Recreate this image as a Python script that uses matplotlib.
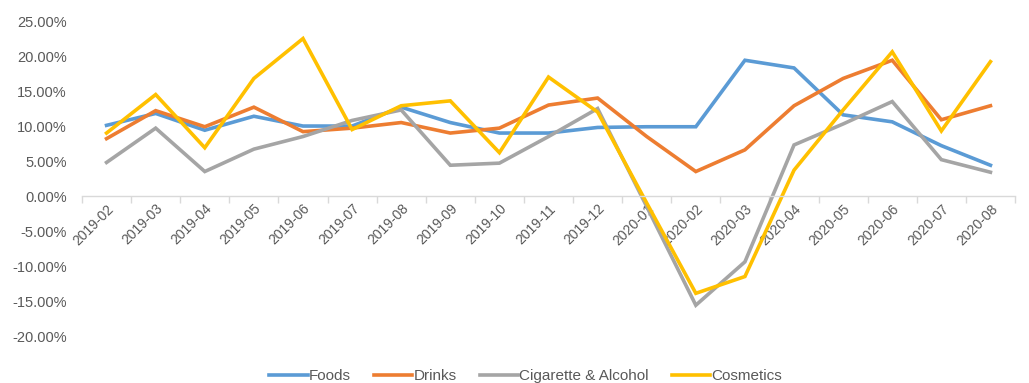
import matplotlib.pyplot as plt
from matplotlib.ticker import FuncFormatter, MultipleLocator, FixedLocator

# Data (year-on-year growth, %)
months = ["2019-02", "2019-03", "2019-04", "2019-05", "2019-06", "2019-07",
          "2019-08", "2019-09", "2019-10", "2019-11", "2019-12", "2020-01",
          "2020-02", "2020-03", "2020-04", "2020-05", "2020-06", "2020-07",
          "2020-08"]
foods = [10.1, 11.8, 9.4, 11.4, 10.0, 10.0, 12.7, 10.5, 9.0, 9.0, 9.8, 9.9,
         9.9, 19.4, 18.3, 11.6, 10.6, 7.2, 4.4]
drinks = [8.2, 12.2, 9.9, 12.7, 9.2, 9.7, 10.5, 9.0, 9.7, 13.0, 14.0, 8.5,
          3.5, 6.6, 12.9, 16.8, 19.4, 10.9, 12.9]
cig_alcohol = [4.8, 9.7, 3.5, 6.7, 8.5, 10.8, 12.3, 4.4, 4.7, 8.5, 12.5, -1.5,
               -15.6, -9.4, 7.3, 10.3, 13.5, 5.2, 3.4]
cosmetics = [9.0, 14.5, 6.9, 16.8, 22.5, 9.5, 12.9, 13.6, 6.2, 17.0, 12.0, -1.0,
             -13.9, -11.5, 3.7, 12.3, 20.6, 9.3, 19.2]

series = [
    ("Foods", foods, "#5B9BD5"),
    ("Drinks", drinks, "#ED7D31"),
    ("Cigarette & Alcohol", cig_alcohol, "#A5A5A5"),
    ("Cosmetics", cosmetics, "#FFC000"),
]

plt.rcParams['font.family'] = ['Liberation Sans', 'DejaVu Sans']

fig = plt.figure(figsize=(10.29, 3.83), dpi=100)
ax = fig.add_axes([0.0797, 0.1227, 0.9067, 0.8223])

x = list(range(len(months)))
for name, vals, color in series:
    ax.plot(x, vals, color=color, lw=2.6, label=name, solid_joinstyle='miter')

ax.set_xlim(-0.5, len(months) - 0.5)
ax.set_ylim(-20, 25)
ax.yaxis.set_major_locator(MultipleLocator(5))
ax.yaxis.set_major_formatter(FuncFormatter(lambda v, p: f"{v:.2f}%"))
ax.tick_params(axis='y', length=0, labelsize=10.5, labelcolor='#595959', pad=11)

for s in ['top', 'right', 'left']:
    ax.spines[s].set_visible(False)
ax.spines['bottom'].set_position(('data', 0))
ax.spines['bottom'].set_color('#D9D9D9')
ax.spines['bottom'].set_linewidth(1.0)

ax.set_xticks(x)
ax.set_xticklabels(months, rotation=45, ha='right', rotation_mode='anchor')
ax.xaxis.set_minor_locator(FixedLocator([i - 0.5 for i in range(len(months) + 1)]))
ax.tick_params(axis='x', which='major', length=0, labelsize=10,
               labelcolor='#595959', pad=4)
ax.tick_params(axis='x', which='minor', length=5, color='#D9D9D9', width=1.0)

fig.legend(loc='center', bbox_to_anchor=(0.511, 0.018), ncol=4, frameon=False,
           fontsize=11, handlelength=2.5, handletextpad=0.1, columnspacing=1.5,
           labelcolor='#595959', borderpad=0)

fig.savefig("out.png", dpi=100)
